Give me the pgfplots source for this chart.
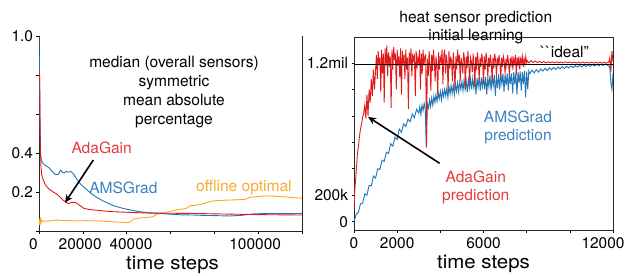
\documentclass[border=0pt]{standalone}
\usepackage{fontspec}
\setmainfont{TeX Gyre Heros}
\usepackage{graphicx}
\usepackage{pgfplots}
\pgfplotsset{compat=1.18}
\usetikzlibrary{arrows.meta}
\definecolor{cred}{RGB}{227,26,28}
\definecolor{cblue}{RGB}{31,119,180}
\definecolor{corange}{RGB}{255,165,30}
\definecolor{tred}{RGB}{228,60,60}
\definecolor{tblue}{RGB}{60,130,190}
\definecolor{torange}{RGB}{250,170,50}
\pgfplotsset{
  every axis/.append style={
    scale only axis,
    tick align=outside,
    major tick length=2.5bp,
    tick style={black, line width=0.6bp},
    axis line style={line width=0.8bp, black!85},
    ticklabel style={font=\fontsize{15.5}{18}\selectfont},
    xticklabel style={yshift=-2bp},
    /pgf/number format/assume math mode=true,
    label style={font=\fontsize{19}{22}\selectfont},
    scaled ticks=false,
    clip=true, clip mode=individual,
  }
}
\begin{document}
\begin{tikzpicture}[x=1bp,y=1bp]
\path[use as bounding box] (-39bp,-45bp) rectangle (592bp,231bp);
% ---------------- left axis ----------------
\begin{axis}[at={(0bp,0bp)}, anchor=south west,
  width=263bp, height=195bp,
  xmin=0, xmax=120000, ymin=0, ymax=1,
  axis x line*=bottom, axis y line*=left,
  xtick={0,20000,40000,60000,80000,100000,120000},
  xticklabels={0\hspace*{11bp},20000\hspace*{5.4bp},\hspace*{8.6bp}40000,,,100000\hspace*{6bp},},
  ytick={0,0.2,0.4,0.6,0.8,1.0},
  yticklabels={,0.2,0.4,,,1.0},
  xlabel={\scalebox{1.08}[1]{time steps}},
  xlabel style={at={(axis description cs:0.5,0)}, anchor=base, yshift=-38bp, xshift=2bp},
]
\draw[line width=0.8bp, black!85] (rel axis cs:1,0) -- (rel axis cs:1,1);
\addplot[corange, line width=0.9bp] coordinates {
(0,0.06) (300,0.03) (600,0.07) (900,0.04) (1300,0.055) (2000,0.05) (5000,0.052)
(8000,0.056) (12000,0.054) (17000,0.052) (22000,0.053) (28000,0.051) (34000,0.047)
(40000,0.043) (41500,0.045) (43000,0.06) (45000,0.065) (50000,0.07) (52000,0.073)
(53500,0.085) (55000,0.09) (58000,0.095) (60000,0.1) (62000,0.107) (67000,0.115)
(69000,0.13) (72000,0.133) (75000,0.14) (77000,0.148) (80000,0.155) (85000,0.158)
(90000,0.16) (94000,0.162) (96000,0.172) (99000,0.176) (104000,0.18) (110000,0.177)
(115000,0.172) (120000,0.168)
};
\addplot[cblue, line width=0.9bp] coordinates {
(0,1.0) (200,0.85) (400,0.6) (600,0.45) (800,0.385) (1200,0.36) (2000,0.345)
(3000,0.335) (4500,0.325) (6000,0.305) (7500,0.29) (8800,0.29) (9500,0.305)
(10000,0.312) (10800,0.30) (11500,0.298) (12500,0.305) (13500,0.302) (14500,0.305)
(15500,0.296) (17000,0.27) (19000,0.24) (21500,0.215) (24000,0.19) (27000,0.168)
(30000,0.15) (34000,0.13) (38000,0.117) (42000,0.107) (46000,0.099) (50000,0.094)
(55000,0.09) (60000,0.086) (65000,0.083) (70000,0.082) (75000,0.08) (80000,0.079)
(87000,0.077) (92000,0.08) (98000,0.088) (105000,0.09) (112000,0.09) (120000,0.09)
};
\addplot[cred, line width=0.9bp] coordinates {
(0,0.82) (300,0.80) (500,0.55) (700,0.40) (900,0.33) (1200,0.29) (2000,0.26)
(3000,0.235) (4300,0.218) (5500,0.208) (6500,0.200) (8000,0.190) (9500,0.175)
(11000,0.158) (12500,0.146) (13500,0.140) (15000,0.147) (16500,0.146) (17500,0.140)
(19000,0.128) (20500,0.116) (23000,0.110) (26000,0.107) (30000,0.102) (34000,0.099)
(40000,0.096) (45000,0.094) (50000,0.092) (60000,0.091) (70000,0.090) (80000,0.088)
(90000,0.086) (100000,0.084) (110000,0.083) (120000,0.082)
};
\node[align=center, font=\fontsize{15.6}{19}\selectfont] at (axis cs:61600,0.714)
  {median (overall sensors)\\symmetric\\mean absolute\\percentage};
\node[text=tred, font=\fontsize{15.6}{19}\selectfont] at (axis cs:28600,0.427) {AdaGain};
\node[text=tblue, font=\fontsize{15.6}{19}\selectfont] at (axis cs:38500,0.222) {AMSGrad};
\node[text=torange, font=\fontsize{15.6}{19}\selectfont] at (axis cs:93500,0.222) {offline optimal};
\draw[-{Stealth[length=8bp,width=7bp]}, line width=1.6bp] (axis cs:24780,0.364) -- (axis cs:11860,0.145);
\end{axis}
% ---------------- right axis ----------------
\begin{axis}[at={(315bp,1bp)}, anchor=south west,
  width=259bp, height=193bp,
  xmin=0, xmax=12000, ymin=-63, ymax=1396,
  tick pos=left,
  xtick={0,2000,4000,6000,8000,10000,12000},
  xticklabels={0,2000,,6000,,,12000\hspace*{20bp}},
  ytick={0,200,400,600,800,1000,1200},
  yticklabels={0,200k,,,,,1.2mil},
  xlabel={\scalebox{1.08}[1]{time steps}},
  xlabel style={at={(axis description cs:0.5,0)}, anchor=base, yshift=-38bp},
]
\addplot[cblue, line width=0.9bp] coordinates {
(0,0) (100,55) (200,70) (300,135) (400,140) (500,210) (600,200) (700,275) (800,270)
(900,345) (1000,330) (1100,400) (1200,395) (1300,465) (1400,455) (1500,525) (1600,515)
(1700,590) (1800,570) (1900,640) (2000,620) (2100,700) (2200,675) (2300,740) (2400,720)
(2500,775) (2600,755) (2700,815) (2800,785) (2900,850) (3000,820)
(3050,870) (3100,810) (3150,880) (3200,840) (3250,895) (3300,850) (3350,570) (3400,890)
(3450,860) (3500,920) (3550,870) (3600,935) (3650,880) (3700,950) (3750,900) (3800,960)
(3850,910) (3900,975) (3950,930) (4000,985) (4050,920) (4100,990) (4150,945) (4200,1000)
(4250,950) (4300,1010) (4350,940) (4400,1020) (4450,965) (4500,1030) (4550,970) (4600,1035)
(4650,960) (4700,1040) (4750,985) (4800,1050) (4850,980) (4900,1055) (4950,1000) (5000,1060)
(5050,990) (5100,1070) (5150,1000) (5200,1065) (5250,980) (5300,1075) (5350,1010) (5400,1080)
(5450,1000) (5500,1085) (5550,1015) (5600,1090) (5650,960) (5700,1085) (5750,1020) (5800,1095)
(5850,990) (5900,1090) (5950,1020) (6000,1100) (6050,1000) (6100,1095) (6150,960) (6200,1090)
(6250,1020) (6300,1105) (6350,990) (6400,1100) (6450,1030) (6500,1110) (6550,950) (6600,1100)
(6650,1010) (6700,1115) (6750,1000) (6800,1110) (6850,1040) (6900,1120) (6950,980) (7000,1115)
(7050,1030) (7100,1120) (7150,990) (7200,1125) (7250,1040) (7300,1120) (7350,970) (7400,1130)
(7450,1040) (7500,1125) (7550,960) (7600,1130) (7650,1050) (7700,1135) (7750,990) (7800,1130)
(7850,1040) (7900,1140) (7950,940) (8000,1135) (8050,1000) (8100,1140)
(8150,1120) (8250,1145) (8350,1125) (8450,1150) (8550,1130) (8650,1155) (8750,1138)
(8850,1160) (8950,1142) (9050,1163) (9150,1148) (9250,1166) (9350,1150) (9450,1170)
(9550,1155) (9650,1172) (9750,1158) (9850,1175) (9950,1162) (10050,1177) (10150,1165)
(10250,1180) (10350,1168) (10450,1182) (10550,1170) (10650,1184) (10750,1172) (10850,1186)
(10950,1175) (11050,1188) (11150,1177) (11250,1190) (11350,1178) (11450,1191) (11550,1180)
(11650,1192) (11750,1182) (11850,1170) (11900,1050) (11950,1000) (12000,1120)
};
\addplot[cred, line width=0.9bp] coordinates {
(0,100) (40,250) (80,330) (120,420) (160,520) (200,560) (250,640) (300,700) (350,740)
(400,790) (450,820) (500,880) (550,780) (600,960) (650,800) (700,1000) (750,900)
(800,1080) (850,950) (900,1150) (950,1000)
(1000,1150) (1040,1260) (1080,1080) (1120,1290) (1160,1190) (1200,1240) (1240,980) (1280,1300) (1320,1120) (1360,1270)
(1400,900) (1440,1310) (1480,1180) (1520,1330) (1560,1100) (1600,1280) (1640,1200) (1680,1250) (1720,860) (1760,1300)
(1800,1150) (1840,1320) (1880,1220) (1920,1270) (1960,1000) (2000,1300) (2040,1180) (2080,1250) (2120,1090) (2160,1310)
(2200,960) (2240,1290) (2280,1210) (2320,1260) (2360,1080) (2400,1300) (2440,1150) (2480,1240) (2520,850) (2560,1280)
(2600,1190) (2640,1310) (2680,1100) (2720,1270) (2760,1220) (2800,1250) (2840,950) (2880,1290) (2920,1160) (2960,1240)
(3000,1200) (3040,1300) (3080,1000) (3120,1270) (3160,1120) (3200,1300) (3240,1180) (3280,1250) (3320,1260) (3360,560)
(3400,1230) (3440,1100) (3480,1290) (3520,1190) (3560,990) (3600,1260) (3640,1140) (3680,1300) (3720,1210) (3760,1060)
(3800,1250) (3840,1180) (3880,960) (3920,1280) (3960,1150) (4000,1240) (4040,1210) (4080,1300) (4120,1040) (4160,1260)
(4200,1300) (4240,1120) (4280,1260) (4320,1200) (4360,990) (4400,1290) (4440,1160) (4480,1240) (4520,1220) (4560,1060)
(4600,1280) (4640,1170) (4680,1000) (4720,1250) (4760,1150) (4800,1300) (4840,1210) (4880,1260) (4920,1060) (4960,1240)
(5000,1200) (5040,1120) (5080,1280) (5120,1230) (5160,1000) (5200,1250) (5240,1160) (5280,1290) (5320,1190) (5360,1050)
(5400,1240) (5440,1210) (5480,1130) (5520,1270) (5560,1180) (5600,1020) (5640,1250) (5680,1150) (5720,1280) (5760,1200)
(5800,1080) (5840,1240) (5880,1170) (5920,1270) (5960,1220) (6000,1040) (6040,1250) (6080,1150) (6120,1280) (6160,1210)
(6200,1090) (6240,1240) (6280,1170) (6320,1260) (6360,1200) (6400,1060) (6440,1240) (6480,1160) (6520,1270) (6560,1220)
(6600,1100) (6640,1240) (6680,1180) (6720,1260) (6760,1200) (6800,1080) (6840,1240) (6880,1170) (6920,1250) (6960,1210)
(7000,1120) (7040,1230) (7080,1180) (7120,1260) (7160,1200) (7200,1110) (7240,1240) (7280,1190) (7320,1250) (7360,1150)
(7400,1230) (7440,1200) (7480,1260) (7520,1110) (7560,1240) (7600,1190) (7640,1250) (7680,1150) (7720,1230) (7760,1200)
(7800,1250) (7840,1170) (7880,1230) (7920,1190) (7960,1250) (8000,1200) (8040,1215) (8080,1205)
(8120,1200) (8200,1218) (8300,1203) (8400,1214) (8500,1202) (8600,1212) (8700,1201) (8800,1210)
(8900,1200) (9000,1209) (9100,1201) (9200,1208) (9300,1200) (9400,1208) (9500,1201) (9600,1207)
(9700,1200) (9800,1208) (9900,1200) (10000,1207) (10100,1200) (10200,1207) (10300,1199) (10400,1206)
(10500,1199) (10600,1206) (10700,1199) (10800,1205) (10900,1199) (11000,1205) (11100,1199) (11200,1205)
(11300,1199) (11400,1204) (11500,1199) (11600,1204) (11700,1199) (11800,1205)
(11850,1240) (11900,1130) (11950,1290) (12000,1210)
};
\addplot[black, line width=0.8bp] coordinates {(0,1190) (12000,1190)};
\node[text=tblue, align=center, font=\fontsize{15.6}{18.4}\selectfont] at (axis cs:7600,711) {AMSGrad\\prediction};
\node[text=tred, align=center, font=\fontsize{15.6}{18.4}\selectfont] at (axis cs:5640,258) {AdaGain\\prediction};
\node[font=\fontsize{15.6}{18.4}\selectfont] at (axis cs:9760,1283) {\textasciigrave\textasciigrave{}ideal''};
\draw[-{Stealth[length=8bp,width=7bp]}, line width=1.6bp] (axis cs:3970,441) -- (axis cs:650,792);
\node[align=center, font=\fontsize{15.6}{17.6}\selectfont, anchor=base] at ([xshift=-7.7bp, yshift=-3bp]rel axis cs:0.5,1) {initial learning};
\node[align=center, font=\fontsize{15.6}{17.6}\selectfont, anchor=base] at ([xshift=-7.7bp, yshift=14.6bp]rel axis cs:0.5,1) {heat sensor prediction};
\end{axis}
\end{tikzpicture}
\end{document}
